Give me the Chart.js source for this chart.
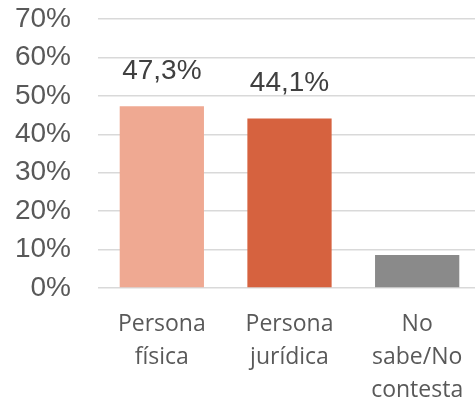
<!DOCTYPE html>
<html>
<head>
<meta charset="utf-8">
<script src="https://cdn.jsdelivr.net/npm/chart.js@4"></script>
<style>
  html, body { margin: 0; padding: 0; background: #fff; overflow: hidden; }
  #wrap { width: 481px; height: 406px; }
</style>
</head>
<body>
<div id="wrap"><canvas id="chart"></canvas></div>
<script>
const categories = [['Persona', 'física'], ['Persona', 'jurídica'], ['No', 'sabe/No', 'contesta']];
const values = [47.3, 44.1, 8.6];
const valueLabels = ['47,3%', '44,1%', ''];
const barColors = ['#efa992', '#d6623f', '#8a8a8a'];

// draws the value above each bar (only where a label is given)
const topLabels = {
  id: 'topLabels',
  afterDatasetsDraw(chart) {
    const ctx = chart.ctx;
    const meta = chart.getDatasetMeta(0);
    ctx.save();
    ctx.font = '28px "Liberation Sans", Arial, sans-serif';
    ctx.fillStyle = '#404040';
    ctx.textAlign = 'center';
    ctx.textBaseline = 'middle';
    meta.data.forEach((bar, i) => {
      if (valueLabels[i]) ctx.fillText(valueLabels[i], bar.x, bar.y - 35);
    });
    ctx.restore();
  }
};

new Chart('chart', {
  type: 'bar',
  data: {
    labels: categories,
    datasets: [{
      data: values,
      backgroundColor: barColors,
      barPercentage: 0.66,
      categoryPercentage: 1
    }]
  },
  options: {
    responsive: true,
    maintainAspectRatio: false,
    animation: false,
    layout: { padding: 0 },
    plugins: { legend: { display: false }, tooltip: { enabled: false } },
    scales: {
      x: {
        grid: { display: false },
        border: { display: false },
        afterFit: s => { s.height = 118; },
        ticks: {
          color: '#595959',
          font: { family: '"Open Sans", sans-serif', size: 23, lineHeight: 1.43 },
          padding: 12,
          maxRotation: 0,
          autoSkip: false
        }
      },
      y: {
        min: 0,
        max: 70,
        grid: { color: '#d9d9d9', lineWidth: 1.5, drawTicks: false },
        border: { display: false },
        afterFit: s => { s.width = 98; s.paddingTop = 19; },
        ticks: {
          stepSize: 10,
          autoSkip: false,
          color: '#595959',
          padding: 27,
          font: { family: '"Liberation Sans", Arial, sans-serif', size: 28 },
          callback: v => v + '%'
        }
      }
    }
  },
  plugins: [topLabels]
});
</script>
</body>
</html>
